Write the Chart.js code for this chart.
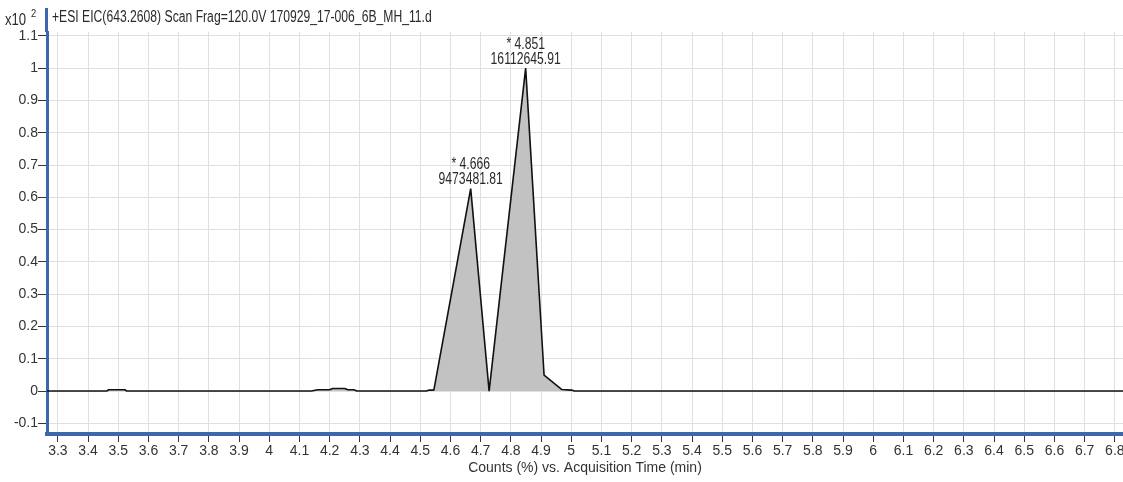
<!DOCTYPE html>
<html><head><meta charset="utf-8">
<script src="https://cdn.jsdelivr.net/npm/chart.js@4.4.1/dist/chart.umd.min.js"></script>
<style>
html,body{margin:0;padding:0;background:#fff;}
#wrap{position:relative;width:1123px;height:482px;}
</style></head><body>
<div id="wrap"><canvas id="c" width="1123" height="482"></canvas></div>
<script>
// Retention time (min)
const times = [3.264, 3.462, 3.468, 3.522, 3.528, 4.140, 4.160, 4.200, 4.210, 4.250, 4.260, 4.280, 4.290,
               4.520, 4.530, 4.545, 4.667, 4.728, 4.849, 4.910, 4.968, 5.001, 5.010, 6.827];
// Counts (x10^2 %)
const counts = [0, 0, 0.004, 0.004, 0, 0, 0.004, 0.004, 0.008, 0.008, 0.004, 0.004, 0,
                0, 0.003, 0.003, 0.627, 0, 1.0, 0.049, 0.005, 0.003, 0, 0];
const xTicks = [3.3,3.4,3.5,3.6,3.7,3.8,3.9,4.0,4.1,4.2,4.3,4.4,4.5,4.6,4.7,4.8,4.9,5.0,5.1,5.2,5.3,5.4,5.5,5.6,5.7,5.8,5.9,6.0,6.1,6.2,6.3,6.4,6.5,6.6,6.7,6.8];
const xTickLabels = ['3.3','3.4','3.5','3.6','3.7','3.8','3.9','4','4.1','4.2','4.3','4.4','4.5','4.6','4.7','4.8','4.9','5','5.1','5.2','5.3','5.4','5.5','5.6','5.7','5.8','5.9','6','6.1','6.2','6.3','6.4','6.5','6.6','6.7','6.8'];
const yTicks = [-0.1,0,0.1,0.2,0.3,0.4,0.5,0.6,0.7,0.8,0.9,1.0,1.1];
const yTickLabels = ['-0.1','0','0.1','0.2','0.3','0.4','0.5','0.6','0.7','0.8','0.9','1','1.1'];
const peakTimes = [4.667, 4.849];
const peakRtLabels = ['* 4.666', '* 4.851'];
const peakAreaLabels = ['9473481.81', '16112645.91'];
const titleText = '+ESI EIC(643.2608) Scan Frag=120.0V 170929_17-006_6B_MH_11.d';

const FONT = '"Liberation Sans", Arial, sans-serif';
const AXIS_BLUE = '#3c67ab';

function narrowText(ctx, text, x, y, sx) {
  ctx.save();
  ctx.translate(x, y);
  ctx.scale(sx, 1);
  ctx.fillText(text, 0, 0);
  ctx.restore();
}

const extras = {
  id: 'extras',
  afterDraw(chart) {
    const ctx = chart.ctx;
    const xs = chart.scales.x, ys = chart.scales.y;
    const area = chart.chartArea;
    ctx.save();
    // extend y axis line up to the header
    ctx.fillStyle = AXIS_BLUE;
    ctx.fillRect(area.left - 2, 8, 3, area.top - 8);
    // header text
    ctx.fillStyle = '#2a2a2a';
    ctx.textBaseline = 'middle';
    ctx.textAlign = 'left';
    ctx.font = '16px ' + FONT;
    narrowText(ctx, titleText, 52, 18, 0.76);
    narrowText(ctx, 'x10', 5, 21, 0.82);
    ctx.font = '11px ' + FONT;
    narrowText(ctx, '2', 31, 14, 0.85);
    // peak annotations
    ctx.textAlign = 'center';
    ctx.font = '16px ' + FONT;
    peakTimes.forEach((t, i) => {
      const idx = times.indexOf(t);
      const px = xs.getPixelForValue(times[idx]);
      const py = ys.getPixelForValue(counts[idx]);
      narrowText(ctx, peakAreaLabels[i], px, py - 9, 0.76);
      narrowText(ctx, peakRtLabels[i], px, py - 24, 0.76);
    });
    ctx.restore();
  }
};

new Chart(document.getElementById('c'), {
  type: 'line',
  data: {
    datasets: [{
      data: times.map((t, i) => ({x: t, y: counts[i]})),
      borderColor: '#111',
      borderWidth: 1.6,
      borderJoinStyle: 'bevel',
      backgroundColor: '#c2c2c2',
      fill: 'origin',
      pointRadius: 0,
      tension: 0
    }]
  },
  options: {
    responsive: false,
    animation: false,
    devicePixelRatio: 1,
    layout: {padding: {top: 32, left: 0, right: 0, bottom: 0}},
    plugins: {legend: {display: false}, tooltip: {enabled: false}, title: {display: false}},
    scales: {
      x: {
        type: 'linear', min: 3.264, max: 6.827,
        afterBuildTicks: s => { s.ticks = xTicks.map(v => ({value: v})); },
        afterFit: s => { s.height = 48; s.paddingRight = 0; s.paddingLeft = 0; },
        grid: {color: '#e0e0e0', tickColor: '#333', tickLength: 8, lineWidth: 1},
        border: {color: AXIS_BLUE, width: 4},
        ticks: {font: {family: FONT, size: 14}, color: '#333', padding: 1, maxRotation: 0, autoSkip: false,
                callback: (v, i) => xTickLabels[i]},
        title: {display: true, text: 'Counts (%) vs. Acquisition Time (min)', font: {family: FONT, size: 14}, color: '#333', padding: {top: 0, bottom: 5}}
      },
      y: {
        type: 'linear', min: -0.133, max: 1.112,
        afterBuildTicks: s => { s.ticks = yTicks.map(v => ({value: v})); },
        afterFit: s => { s.width = 47; },
        grid: {color: '#e0e0e0', tickColor: '#333', tickLength: 9, lineWidth: 1},
        border: {color: AXIS_BLUE, width: 3},
        ticks: {font: {family: FONT, size: 14}, color: '#333', padding: 0,
                callback: (v, i) => yTickLabels[i]}
      }
    }
  },
  plugins: [extras]
});
</script>
</body></html>
